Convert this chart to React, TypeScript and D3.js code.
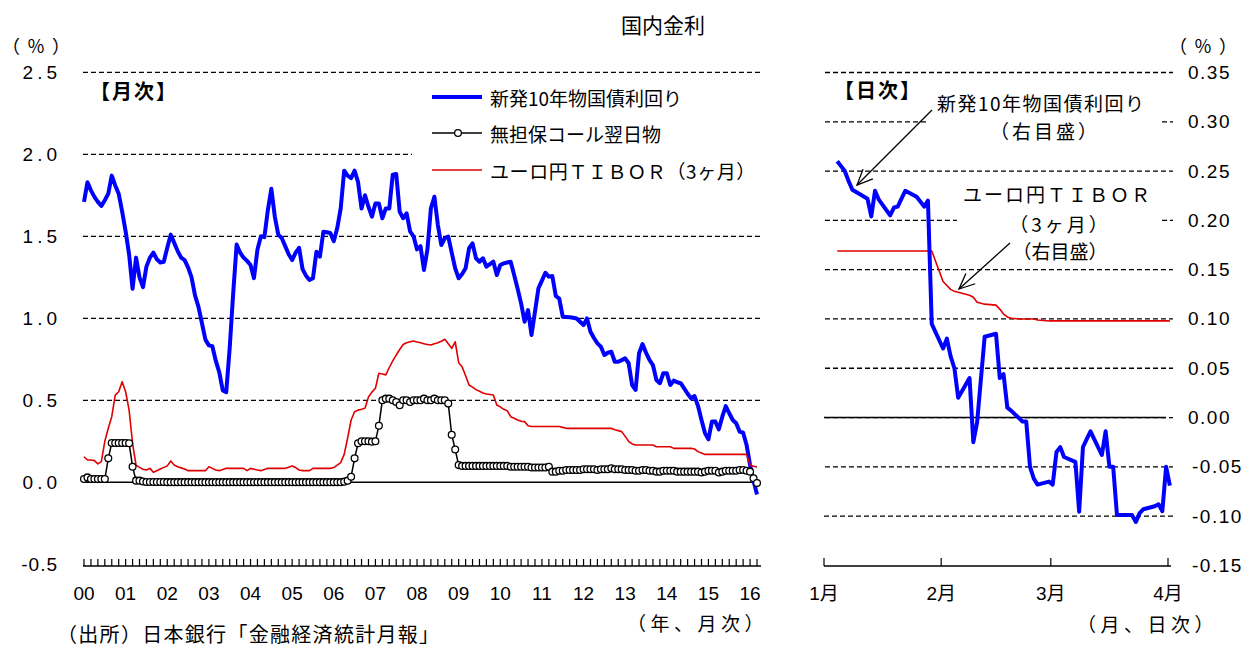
import React from "react";
import * as d3 from "d3";

// ---------- Monthly data (Jan 2000 - Mar 2016) ----------
const yearLabels = ["00","01","02","03","04","05","06","07","08","09","10","11","12","13","14","15","16"];

const jgb2000 = [1.71, 1.83, 1.78, 1.74, 1.71, 1.685, 1.72, 1.76, 1.87, 1.81, 1.76, 1.65];
const jgb2001 = [1.53, 1.39, 1.18, 1.37, 1.25, 1.19, 1.315, 1.37, 1.40, 1.36, 1.34, 1.345];
const jgb2002 = [1.43, 1.51, 1.46, 1.41, 1.37, 1.355, 1.31, 1.25, 1.14, 1.07, 0.97, 0.87];
const jgb2003 = [0.835, 0.83, 0.74, 0.67, 0.56, 0.55, 0.82, 1.15, 1.45, 1.40, 1.37, 1.35];
const jgb2004 = [1.325, 1.245, 1.42, 1.50, 1.495, 1.66, 1.79, 1.62, 1.51, 1.49, 1.44, 1.39];
const jgb2005 = [1.355, 1.40, 1.43, 1.30, 1.26, 1.234, 1.244, 1.406, 1.376, 1.528, 1.525, 1.52];
const jgb2006 = [1.47, 1.55, 1.67, 1.90, 1.87, 1.855, 1.90, 1.83, 1.67, 1.75, 1.68, 1.62];
const jgb2007 = [1.70, 1.70, 1.61, 1.67, 1.67, 1.875, 1.88, 1.65, 1.61, 1.64, 1.53, 1.50];
const jgb2008 = [1.42, 1.44, 1.295, 1.42, 1.671, 1.741, 1.57, 1.447, 1.488, 1.498, 1.40, 1.305];
const jgb2009 = [1.244, 1.27, 1.305, 1.427, 1.457, 1.366, 1.345, 1.366, 1.315, 1.33, 1.345, 1.264];
const jgb2010 = [1.325, 1.335, 1.34, 1.345, 1.264, 1.18, 1.091, 0.979, 1.05, 0.898, 1.04, 1.183];
const jgb2011 = [1.23, 1.278, 1.254, 1.258, 1.136, 1.12, 1.01, 1.008, 1.006, 1.003, 0.999, 0.979];
const jgb2012 = [0.959, 0.999, 0.918, 0.88, 0.847, 0.827, 0.776, 0.79, 0.796, 0.735, 0.735, 0.745];
const jgb2013 = [0.756, 0.726, 0.593, 0.563, 0.787, 0.843, 0.79, 0.746, 0.715, 0.624, 0.604, 0.665];
const jgb2014 = [0.665, 0.593, 0.62, 0.61, 0.604, 0.573, 0.54, 0.512, 0.526, 0.465, 0.38, 0.30];
const jgb2015 = [0.262, 0.37, 0.37, 0.323, 0.40, 0.465, 0.421, 0.38, 0.36, 0.309, 0.302, 0.227];
const jgb2016 = [0.105, 0.01, -0.075];

const call2000 = [0.02, 0.03, 0.02, 0.02, 0.02, 0.02, 0.02, 0.146, 0.24, 0.24, 0.24, 0.24];
const call2001 = [0.24, 0.238, 0.095, 0.01, 0.01, 0.005, 0.002, 0.002, 0.002, 0.002, 0.002, 0.002];
const call2002 = [0.001, 0.001, 0.001, 0.001, 0.001, 0.001, 0.001, 0.001, 0.001, 0.001, 0.001, 0.001];
const call2003 = [0.001, 0.001, 0.001, 0.001, 0.001, 0.001, 0.001, 0.001, 0.001, 0.001, 0.001, 0.001];
const call2004 = [0.001, 0.001, 0.001, 0.001, 0.001, 0.001, 0.001, 0.001, 0.001, 0.001, 0.001, 0.001];
const call2005 = [0.001, 0.001, 0.001, 0.001, 0.001, 0.001, 0.001, 0.001, 0.001, 0.001, 0.001, 0.001];
const call2006 = [0.001, 0.001, 0.001, 0.004, 0.01, 0.034, 0.146, 0.238, 0.25, 0.25, 0.25, 0.248];
const call2007 = [0.25, 0.345, 0.50, 0.51, 0.51, 0.50, 0.49, 0.47, 0.50, 0.50, 0.49, 0.50];
const call2008 = [0.50, 0.50, 0.51, 0.50, 0.50, 0.51, 0.50, 0.50, 0.50, 0.48, 0.29, 0.20];
const call2009 = [0.105, 0.10, 0.10, 0.10, 0.10, 0.10, 0.10, 0.10, 0.10, 0.10, 0.10, 0.10];
const call2010 = [0.10, 0.10, 0.10, 0.095, 0.095, 0.095, 0.095, 0.095, 0.095, 0.09, 0.09, 0.09];
const call2011 = [0.09, 0.09, 0.095, 0.065, 0.065, 0.07, 0.07, 0.075, 0.075, 0.075, 0.075, 0.075];
const call2012 = [0.08, 0.08, 0.08, 0.08, 0.075, 0.08, 0.08, 0.08, 0.085, 0.08, 0.08, 0.08];
const call2013 = [0.075, 0.075, 0.075, 0.07, 0.07, 0.075, 0.075, 0.07, 0.07, 0.065, 0.065, 0.07];
const call2014 = [0.07, 0.07, 0.07, 0.065, 0.065, 0.065, 0.065, 0.065, 0.065, 0.065, 0.06, 0.065];
const call2015 = [0.07, 0.07, 0.07, 0.06, 0.065, 0.07, 0.07, 0.07, 0.07, 0.075, 0.075, 0.07];
const call2016 = [0.065, 0.025, -0.005];

const tibor2000 = [0.156, 0.136, 0.136, 0.132, 0.112, 0.126, 0.25, 0.33, 0.40, 0.532, 0.552, 0.613];
const tibor2001 = [0.552, 0.44, 0.238, 0.105, 0.091, 0.08, 0.075, 0.085, 0.061, 0.071, 0.081, 0.091];
const tibor2002 = [0.10, 0.13, 0.105, 0.095, 0.088, 0.081, 0.071, 0.071, 0.071, 0.071, 0.071, 0.071];
const tibor2003 = [0.095, 0.085, 0.075, 0.071, 0.078, 0.085, 0.085, 0.085, 0.085, 0.085, 0.085, 0.071];
const tibor2004 = [0.085, 0.08, 0.075, 0.071, 0.078, 0.085, 0.085, 0.085, 0.085, 0.085, 0.085, 0.092];
const tibor2005 = [0.099, 0.09, 0.075, 0.071, 0.071, 0.071, 0.085, 0.085, 0.085, 0.085, 0.085, 0.085];
const tibor2006 = [0.09, 0.105, 0.12, 0.17, 0.27, 0.38, 0.43, 0.44, 0.445, 0.451, 0.52, 0.55];
const tibor2007 = [0.573, 0.665, 0.66, 0.655, 0.70, 0.74, 0.776, 0.81, 0.84, 0.851, 0.857, 0.862];
const tibor2008 = [0.855, 0.851, 0.845, 0.840, 0.837, 0.845, 0.851, 0.86, 0.872, 0.845, 0.817, 0.857];
const tibor2009 = [0.729, 0.705, 0.65, 0.593, 0.58, 0.565, 0.555, 0.545, 0.538, 0.535, 0.532, 0.471];
const tibor2010 = [0.46, 0.445, 0.437, 0.40, 0.39, 0.38, 0.372, 0.37, 0.345, 0.34, 0.34, 0.34];
const tibor2011 = [0.34, 0.34, 0.34, 0.34, 0.34, 0.34, 0.335, 0.329, 0.329, 0.329, 0.329, 0.329];
const tibor2012 = [0.329, 0.329, 0.329, 0.329, 0.329, 0.329, 0.329, 0.329, 0.329, 0.32, 0.315, 0.309];
const tibor2013 = [0.28, 0.25, 0.234, 0.227, 0.227, 0.227, 0.227, 0.227, 0.227, 0.217, 0.217, 0.217];
const tibor2014 = [0.217, 0.217, 0.207, 0.207, 0.207, 0.207, 0.207, 0.207, 0.203, 0.187, 0.178, 0.17];
const tibor2015 = [0.17, 0.17, 0.17, 0.17, 0.17, 0.17, 0.17, 0.17, 0.17, 0.17, 0.17, 0.17];
const tibor2016 = [0.105, 0.098, 0.093];

// ---------- Daily data (2016) ----------
const dailyDates = [
  "2016-01-04","2016-01-05","2016-01-06","2016-01-07","2016-01-08","2016-01-12","2016-01-13","2016-01-14","2016-01-15",
  "2016-01-18","2016-01-19","2016-01-20","2016-01-21","2016-01-22","2016-01-25","2016-01-26","2016-01-27","2016-01-28","2016-01-29",
  "2016-02-01","2016-02-02","2016-02-03","2016-02-04","2016-02-05","2016-02-08","2016-02-09","2016-02-10","2016-02-12",
  "2016-02-15","2016-02-16","2016-02-17","2016-02-18","2016-02-19","2016-02-22","2016-02-23","2016-02-24","2016-02-25","2016-02-26",
  "2016-02-29","2016-03-01","2016-03-02","2016-03-03","2016-03-04","2016-03-07","2016-03-08","2016-03-09","2016-03-10","2016-03-11",
  "2016-03-14","2016-03-15","2016-03-16","2016-03-17","2016-03-18","2016-03-22","2016-03-23","2016-03-24","2016-03-25",
  "2016-03-28","2016-03-29","2016-03-30","2016-03-31","2016-04-01"
];
const jgbDaily = [
  0.260, 0.255, 0.250, 0.240, 0.231, 0.222, 0.204, 0.230, 0.221,
  0.205, 0.213, 0.214, 0.222, 0.230, 0.224, 0.219, 0.214, 0.220, 0.095,
  0.070, 0.080, 0.062, 0.050, 0.020, 0.040, -0.025, -0.005, 0.082,
  0.085, 0.040, 0.044, 0.010, 0.007, -0.004, -0.004, -0.050, -0.062, -0.068,
  -0.065, -0.068, -0.035, -0.030, -0.040, -0.045, -0.0955, -0.030, -0.022, -0.014,
  -0.038, -0.014, -0.050, -0.050, -0.099, -0.099, -0.106, -0.097, -0.093,
  -0.090, -0.088, -0.095, -0.050, -0.069
];
const tiborDaily = [
  0.169, 0.169, 0.169, 0.169, 0.169, 0.169, 0.169, 0.169, 0.169,
  0.169, 0.169, 0.169, 0.169, 0.169, 0.169, 0.169, 0.169, 0.169, 0.169,
  0.138, 0.134, 0.130, 0.128, 0.127, 0.124, 0.122, 0.117, 0.115,
  0.114, 0.110, 0.105, 0.102, 0.1006, 0.100, 0.100, 0.100, 0.100, 0.099,
  0.098, 0.098, 0.098, 0.098, 0.098, 0.098, 0.098, 0.098, 0.098, 0.098,
  0.098, 0.098, 0.098, 0.098, 0.098, 0.098, 0.098, 0.098, 0.098,
  0.098, 0.098, 0.098, 0.098, 0.098
];

const leftTicks = [-0.5, 0, 0.5, 1.0, 1.5, 2.0, 2.5];
const rightTicks = [-0.15, -0.10, -0.05, 0, 0.05, 0.10, 0.15, 0.20, 0.25, 0.30, 0.35];
const monthTickLabels = ["1月", "2月", "3月", "4月"];

const jgbMonthly = [jgb2000, jgb2001, jgb2002, jgb2003, jgb2004, jgb2005, jgb2006, jgb2007, jgb2008, jgb2009, jgb2010, jgb2011, jgb2012, jgb2013, jgb2014, jgb2015, jgb2016].flat();
const callMonthly = [call2000, call2001, call2002, call2003, call2004, call2005, call2006, call2007, call2008, call2009, call2010, call2011, call2012, call2013, call2014, call2015, call2016].flat();
const tiborMonthly = [tibor2000, tibor2001, tibor2002, tibor2003, tibor2004, tibor2005, tibor2006, tibor2007, tibor2008, tibor2009, tibor2010, tibor2011, tibor2012, tibor2013, tibor2014, tibor2015, tibor2016].flat();

const FONT = "'Liberation Sans', Arial, 'Noto Sans CJK JP', sans-serif";
const JP = "'Noto Sans CJK JP', 'Liberation Sans', sans-serif";
const BLUE = "#0000ff";
const RED = "#e00000";

function Arrow({ x1, y1, x2, y2 }: { x1: number; y1: number; x2: number; y2: number }) {
  const ang = Math.atan2(y2 - y1, x2 - x1);
  const L = 17, spread = 0.42;
  const a1 = ang + Math.PI - spread, a2 = ang + Math.PI + spread;
  return (
    <g stroke="#000" strokeWidth={1.3} fill="none">
      <line x1={x1} y1={y1} x2={x2} y2={y2} />
      <polyline points={`${x2 + L * Math.cos(a1)},${y2 + L * Math.sin(a1)} ${x2},${y2} ${x2 + L * Math.cos(a2)},${y2 + L * Math.sin(a2)}`} />
    </g>
  );
}

export default function App() {
  const nMonths = jgbMonthly.length;
  const xL = d3.scaleLinear().domain([0, nMonths - 1]).range([84, 757]);
  const yL = d3.scaleLinear().domain([-0.5, 2.5]).range([564.3, 72.3]);
  const parse = d3.timeParse("%Y-%m-%d");
  const dates = dailyDates.map((s) => d3.timeHour.offset(parse(s) as Date, 12));
  const xR = d3.scaleTime().domain([new Date(2016, 0, 1), new Date(2016, 3, 1)]).range([824, 1168]);
  const yR = d3.scaleLinear().domain([-0.15, 0.35]).range([565.4, 72.5]);

  const lineL = d3.line<number>().x((_, i) => xL(i)).y((d) => yL(d));
  const lineR = d3.line<number>().x((_, i) => xR(dates[i])).y((d) => yR(d));

  const axisY = 566;
  const monthTicks = d3.range(0, nMonths, 2);
  const monthStarts = d3.timeMonth.range(new Date(2016, 0, 1), new Date(2016, 3, 2));

  const leftGrid: { v: number; segs: [number, number][] }[] = [
    { v: 2.5, segs: [[83, 760]] },
    { v: 2.0, segs: [[83, 412]] },
    { v: 1.5, segs: [[83, 760]] },
    { v: 1.0, segs: [[83, 760]] },
    { v: 0.5, segs: [[83, 760]] },
  ];
  const rightGrid: { v: number; segs: [number, number][] }[] = [
    { v: 0.35, segs: [[825, 1173]] },
    { v: 0.30, segs: [[825, 928], [1162, 1173]] },
    { v: 0.25, segs: [[825, 1173]] },
    { v: 0.20, segs: [[825, 957], [1162, 1173]] },
    { v: 0.15, segs: [[825, 1173]] },
    { v: 0.10, segs: [[825, 1173]] },
    { v: 0.05, segs: [[825, 1173]] },
    { v: 0.0, segs: [[825, 1173]] },
    { v: -0.05, segs: [[825, 1173]] },
    { v: -0.10, segs: [[824, 1173]] },
  ];
  const dash = "5,3";

  const fmtL = (v: number) => v.toFixed(1);
  const fmtR = (v: number) => v.toFixed(2);

  return (
    <svg width={1245} height={648} style={{ position: "absolute", left: 0, top: 0, display: "block" }} fontFamily={FONT}>
      <rect x={0} y={0} width={1245} height={648} fill="#fff" />

      {/* Title */}
      <text x={663} y={24} fontSize={21} fontFamily={JP} textAnchor="middle" dominantBaseline="central">国内金利</text>

      {/* unit labels */}
      <text x={2} y={45} fontSize={18} dominantBaseline="central" fontFamily={JP} letterSpacing={7}>（％）</text>
      <text x={1169} y={45} fontSize={18} dominantBaseline="central" fontFamily={JP} letterSpacing={7}>（％）</text>

      {/* Left gridlines */}
      {leftGrid.map((g) =>
        g.segs.map((s, j) => (
          <line key={`lg${g.v}-${j}`} x1={s[0]} x2={s[1]} y1={yL(g.v)} y2={yL(g.v)} stroke="#000" strokeWidth={1.3} strokeDasharray={dash} />
        ))
      )}
      <line x1={83} x2={760} y1={yL(0)} y2={yL(0)} stroke="#000" strokeWidth={1.5} />

      {/* Right gridlines */}
      {rightGrid.map((g) =>
        g.segs.map((s, j) => (
          <line key={`rg${g.v}-${j}`} x1={s[0]} x2={s[1]} y1={yR(g.v)} y2={yR(g.v)} stroke="#000" strokeWidth={1.3} strokeDasharray={dash} />
        ))
      )}
      <line x1={824} x2={1166} y1={yR(0)} y2={yR(0)} stroke="#000" strokeWidth={1.6} />

      {/* Left y labels */}
      {leftTicks.map((v) => (
        <text key={`ly${v}`} x={v < 0 ? 58 : 61} y={yL(v)} fontSize={19} textAnchor="end" dominantBaseline="central" letterSpacing={v < 0 ? 1 : 4}>
          {fmtL(v)}
        </text>
      ))}
      {/* Right y labels */}
      {rightTicks.map((v) => (
        <text key={`ry${v}`} x={v < 0 ? 1192 : 1188} y={yR(v)} fontSize={19} textAnchor="start" dominantBaseline="central" letterSpacing={1.5}>
          {fmtR(v)}
        </text>
      ))}

      {/* Left x axis */}
      <line x1={83} x2={761} y1={axisY} y2={axisY} stroke="#000" strokeWidth={1.5} />
      {monthTicks.map((m) => (
        <line key={`mt${m}`} x1={xL(m)} x2={xL(m)} y1={axisY} y2={axisY - 7} stroke="#000" strokeWidth={1.2} />
      ))}
      {yearLabels.map((lab, i) => (
        <text key={`yl${lab}`} x={xL(i * 12)} y={593} fontSize={19} textAnchor="middle" dominantBaseline="central">
          {lab}
        </text>
      ))}
      <text x={627} y={622} fontSize={19} fontFamily={JP} dominantBaseline="central" letterSpacing={4.5}>（年、月次）</text>

      {/* Right x axis */}
      <line x1={824} x2={1171} y1={axisY} y2={axisY} stroke="#000" strokeWidth={1.5} />
      {monthStarts.map((d, i) => (
        <g key={`rt${i}`}>
          <line x1={xR(d)} x2={xR(d)} y1={axisY} y2={axisY - 8} stroke="#000" strokeWidth={1.2} />
          <text x={xR(d)} y={593} fontSize={19} fontFamily={FONT} textAnchor="middle" dominantBaseline="central">
            {monthTickLabels[i]}
          </text>
        </g>
      ))}
      <text x={1077} y={623} fontSize={19} fontFamily={JP} dominantBaseline="central" letterSpacing={4.5}>（月、日次）</text>

      {/* Source */}
      <text x={57} y={633} fontSize={20} fontFamily={JP} dominantBaseline="central" letterSpacing={1.3}>（出所）日本銀行「金融経済統計月報」</text>

      {/* Panel labels */}
      <text x={90} y={90} fontSize={20} fontWeight="bold" fontFamily={JP} dominantBaseline="central" letterSpacing={2}>【月次】</text>
      <text x={834} y={89} fontSize={20} fontWeight="bold" fontFamily={JP} dominantBaseline="central" letterSpacing={2}>【日次】</text>

      {/* Monthly series */}
      <path d={lineL(jgbMonthly) || ""} fill="none" stroke={BLUE} strokeWidth={4} strokeLinejoin="round" />
      <path d={lineL(tiborMonthly) || ""} fill="none" stroke={RED} strokeWidth={1.6} strokeLinejoin="round" />
      <path d={lineL(callMonthly) || ""} fill="none" stroke="#000" strokeWidth={1.5} />
      {callMonthly.map((v, i) => (
        <circle key={`c${i}`} cx={xL(i)} cy={yL(v)} r={3.4} fill="#fff" stroke="#000" strokeWidth={1.3} />
      ))}

      {/* Daily series */}
      <path d={lineR(tiborDaily) || ""} fill="none" stroke={RED} strokeWidth={1.6} strokeLinejoin="round" />
      <path d={lineR(jgbDaily) || ""} fill="none" stroke={BLUE} strokeWidth={4} strokeLinejoin="round" />

      {/* Legend */}
      <line x1={432} x2={482} y1={97} y2={97} stroke={BLUE} strokeWidth={4} />
      <text x={490} y={97} fontSize={19} fontFamily={JP} dominantBaseline="central">新発10年物国債利回り</text>
      <line x1={432} x2={482} y1={133} y2={133} stroke="#000" strokeWidth={1.5} />
      <circle cx={458} cy={133} r={3.4} fill="#fff" stroke="#000" strokeWidth={1.3} />
      <text x={490} y={133} fontSize={19} fontFamily={JP} dominantBaseline="central">無担保コール翌日物</text>
      <line x1={432} x2={482} y1={170} y2={170} stroke={RED} strokeWidth={1.6} />
      <text x={490} y={170} fontSize={19} fontFamily={JP} dominantBaseline="central" letterSpacing={0.6}>ユーロ円ＴＩＢＯＲ（3ヶ月）</text>

      {/* Right annotations */}
      <text x={937} y={102} fontSize={19} fontFamily={JP} dominantBaseline="central" letterSpacing={1.5}>新発10年物国債利回り</text>
      <text x={1045} y={130} fontSize={19} fontFamily={JP} textAnchor="middle" dominantBaseline="central" letterSpacing={3}>（右目盛）</text>
      <text x={963} y={193} fontSize={19} fontFamily={JP} dominantBaseline="central" letterSpacing={2}>ユーロ円ＴＩＢＯＲ</text>
      <text x={1060} y={223} fontSize={19} fontFamily={JP} textAnchor="middle" dominantBaseline="central" letterSpacing={3}>（3ヶ月）</text>
      <text x={1060} y={250} fontSize={19} fontFamily={JP} textAnchor="middle" dominantBaseline="central">（右目盛）</text>
      <Arrow x1={932} y1={110} x2={857} y2={185} />
      <Arrow x1={1010} y1={243} x2={959} y2={289} />
    </svg>
  );
}
